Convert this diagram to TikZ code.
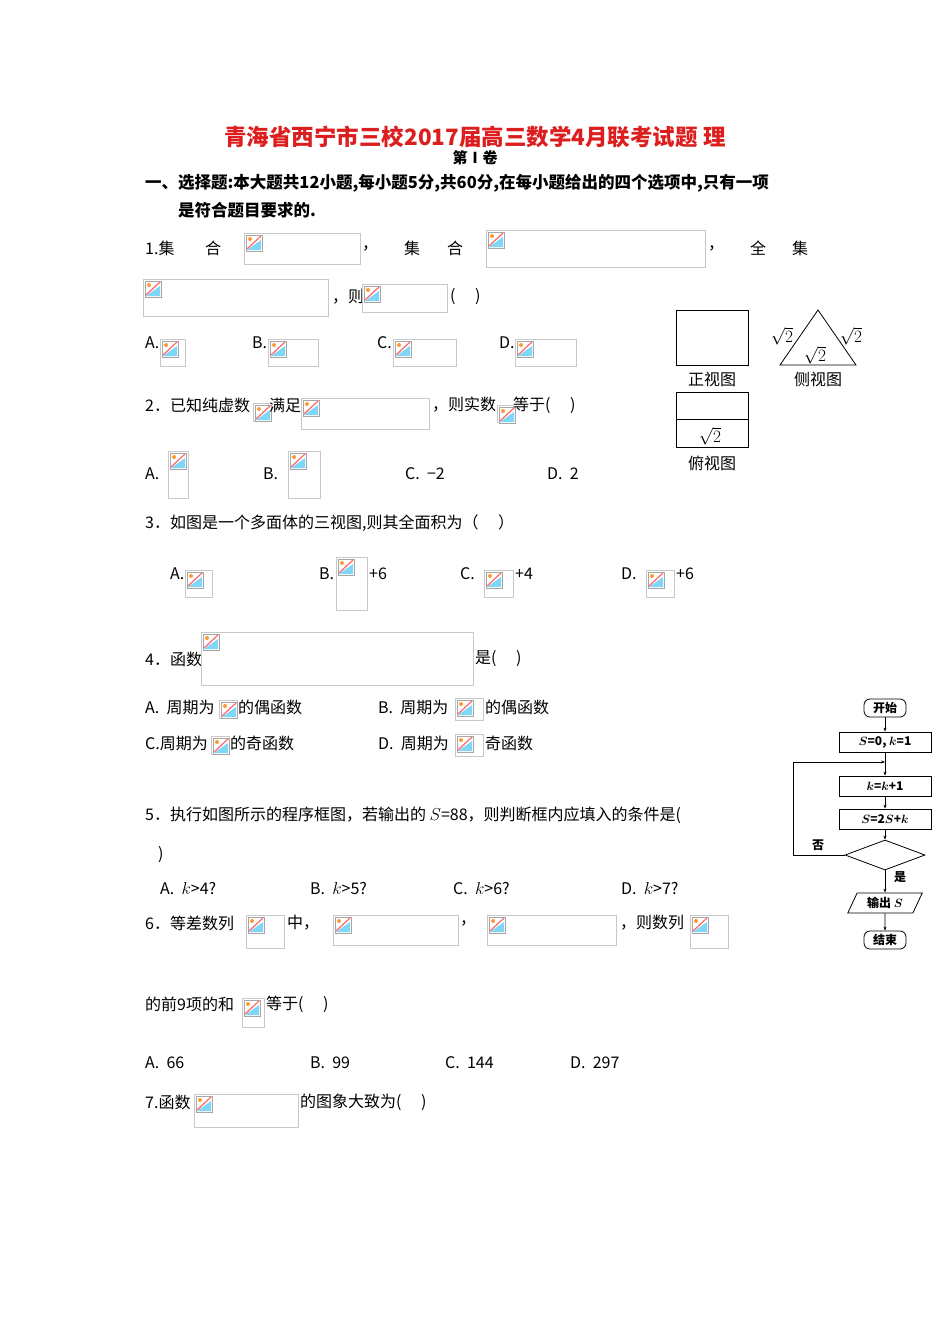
\documentclass[tikz,border=0pt]{standalone}
\usepackage{amsmath,bm}
\usepackage{fontspec}
\setmainfont{Noto Sans CJK SC}
\usetikzlibrary{shapes.geometric,positioning,arrows.meta}
\definecolor{titlered}{RGB}{220,30,30}
\definecolor{boxgray}{RGB}{200,200,200}
\newcommand\imgbox[4]{%
  \draw[boxgray,fill=white] (#1,#2) rectangle (#3,#4);
  \draw[gray!70,fill=white] (#1+2,#2+2) rectangle (#1+18,#2+18);
  \fill[cyan!50] (#1+3,#2+17) -- (#1+17,#2+17) -- (#1+17,#2+7) -- cycle;
  \fill[orange!80] (#1+6,#2+6) circle (2);
  \draw[red!60,line width=1.2pt] (#1+3,#2+16) -- (#1+17,#2+3);
}
\tikzset{
  txt/.style={anchor=west,inner sep=0pt,font=\fontsize{16}{18}\selectfont},
  bold/.style={txt,font=\fontsize{16.5}{18}\selectfont\bfseries},
  sq/.style={font=\fontsize{16}{18}\selectfont},
  fbox/.style={draw,thick,minimum width=92pt,minimum height=20pt,inner sep=1pt,font=\fontsize{12}{13}\selectfont\bfseries},
  term/.style={draw,thick,rounded corners=6pt,minimum width=42pt,minimum height=18pt,inner sep=1pt,font=\fontsize{12}{13}\selectfont\bfseries},
  flow/.style={-{Stealth[length=4pt]},thick},
}
\begin{document}
\begin{tikzpicture}[x=1pt,y=-1pt]
\useasboundingbox[fill=white] (0,0) rectangle (950,1344);
% title
\node[font=\fontsize{22.5}{24}\selectfont\bfseries,text=titlered] (title) at (475,137) {青海省西宁市三校2017届高三数学4月联考试题\ 理};
\node[font=\fontsize{15}{16}\selectfont\bfseries] (vol) at (475,158) {第Ⅰ卷};
\node[bold] at (145,183) {一、选择题:本大题共12小题,每小题5分,共60分,在每小题给出的四个选项中,只有一项};
\node[bold] at (178,210) {是符合题目要求的.};
% question 1
\node[txt] at (145,248) {1.集};
\node[txt] at (205,248) {合};
\imgbox{244}{233}{360}{264}
\node[txt] at (362,248) {，};
\node[txt] at (404,248) {集};
\node[txt] at (447,248) {合};
\imgbox{486}{230}{705}{267}
\node[txt] at (708,248) {，};
\node[txt] at (750,248) {全};
\node[txt] at (792,248) {集};
\imgbox{143}{279}{328}{316}
\node[txt] at (332,297) {，则};
\imgbox{362}{284}{447}{312}
\node[txt] at (450,297) {(\quad\ )};
\node[txt] at (145,343) {A.};
\imgbox{160}{339}{185}{366}
\node[txt] at (252,343) {B.};
\imgbox{268}{339}{318}{366}
\node[txt] at (377,343) {C.};
\imgbox{393}{339}{456}{366}
\node[txt] at (499,343) {D.};
\imgbox{515}{339}{576}{366}
% question 2
\node[txt] at (145,405) {2．已知纯虚数};
\imgbox{253}{403}{268}{421}
\node[txt] at (269,405) {满足};
\imgbox{301}{398}{429}{429}
\node[txt] at (432,405) {，则实数};
\imgbox{497}{405}{513}{422}
\node[txt] at (513,405) {等于(\quad\ )};
\node[txt] at (145,474) {A.};
\imgbox{168}{451}{188}{498}
\node[txt] at (263,474) {B.};
\imgbox{288}{451}{320}{498}
\node[txt] at (405,474) {C.\ \ −2};
\node[txt] at (547,474) {D.\ \ 2};
% question 3
\node[txt] at (145,523) {3．如图是一个多面体的三视图,则其全面积为（\quad\ ）};
\node[txt] at (170,574) {A.};
\imgbox{185}{570}{212}{597}
\node[txt] at (319,574) {B.};
\imgbox{336}{557}{367}{610}
\node[txt] at (369,574) {+6};
\node[txt] at (460,574) {C.};
\imgbox{484}{570}{513}{597}
\node[txt] at (515,574) {+4};
\node[txt] at (621,574) {D.};
\imgbox{646}{570}{674}{597}
\node[txt] at (676,574) {+6};
% three views
\draw[thick] (676,310) rectangle (748,365);
\node[txt,anchor=center] (front) at (712,379) {正视图};
\draw[thick] (818,310) -- (856,365) -- (780,365) -- cycle;
\node[sq] at (782,336) {$\sqrt{2}$};
\node[sq] at (851,336) {$\sqrt{2}$};
\node[sq] at (815,355) {$\sqrt{2}$};
\node[txt,anchor=center] (side) at (818,379) {侧视图};
\draw[thick] (676,392) rectangle (748,447);
\draw[thick] (676,419) -- (748,419);
\node[sq] at (710,436) {$\sqrt{2}$};
\node[txt,anchor=center] (top) at (712,463) {俯视图};
% question 4
\node[txt] at (145,659) {4．函数};
\imgbox{201}{632}{473}{685}
\node[txt] at (475,659) {是(\quad\ )};
\node[txt] at (145,707) {A.\ \ 周期为};
\imgbox{219}{700}{237}{718}
\node[txt] at (238,707) {的偶函数};
\node[txt] at (378,707) {B.\ \ 周期为};
\imgbox{455}{698}{483}{720}
\node[txt] at (485,707) {的偶函数};
\node[txt] at (145,743) {C.周期为};
\imgbox{211}{736}{229}{754}
\node[txt] at (230,743) {的奇函数};
\node[txt] at (378,743) {D.\ \ 周期为};
\imgbox{455}{734}{483}{756}
\node[txt] at (485,743) {奇函数};
% question 5
\node[txt] at (145,815) {5．执行如图所示的程序框图，若输出的 $S$=88，则判断框内应填入的条件是(};
\node[txt] at (158,855) {)};
\node[txt] at (160,888) {A.\ \ $k$>4?};
\node[txt] at (310,888) {B.\ \ $k$>5?};
\node[txt] at (453,888) {C.\ \ $k$>6?};
\node[txt] at (621,888) {D.\ \ $k$>7?};
% flowchart
\node[term] (start) at (885,708) {开始};
\node[fbox] (init) at (885,742) {$\bm{S}$=0, $\bm{k}$=1};
\coordinate (join) at (885,762);
\node[fbox] (inc) at (885,786) {$\bm{k}$=$\bm{k}$+1};
\node[fbox] (upd) at (885,819) {$\bm{S}$=2$\bm{S}$+$\bm{k}$};
\node[draw,thick,diamond,aspect=2.7,minimum width=80pt,minimum height=30pt,inner sep=0pt] (cond) at (885,855) {};
\node[draw,thick,trapezium,trapezium left angle=65,trapezium right angle=115,minimum width=70pt,minimum height=20pt,inner sep=1pt,font=\fontsize{12}{13}\selectfont\bfseries] (out) at (885,903) {输出 $\bm{S}$};
\node[term] (stop) at (885,940) {结束};
\draw[flow] (start) -- (init);
\draw[thick] (init) -- (join);
\draw[flow] (join) -- (inc);
\draw[flow] (inc) -- (upd);
\draw[flow] (upd) -- (cond);
\draw[flow] (cond.west) -- (793,855) -- (793,762) -- (join);
\node[font=\fontsize{12}{13}\selectfont\bfseries] at (818,845) {否};
\draw[flow] (cond) -- (out);
\node[font=\fontsize{12}{13}\selectfont\bfseries] at (900,877) {是};
\draw[flow] (out) -- (stop);
% question 6
\node[txt] at (145,923) {6．等差数列};
\imgbox{246}{915}{284}{948}
\node[txt] at (287,923) {中，};
\imgbox{333}{915}{458}{945}
\node[txt] at (460,923) {，};
\imgbox{487}{915}{616}{945}
\node[txt] at (620,923) {，则数列};
\imgbox{690}{915}{728}{948}
\node[txt] at (145,1004) {的前9项的和};
\imgbox{242}{998}{264}{1027}
\node[txt] at (266,1004) {等于(\quad\ )};
\node[txt] at (145,1063) {A.\ \ 66};
\node[txt] at (310,1063) {B.\ \ 99};
\node[txt] at (445,1063) {C.\ \ 144};
\node[txt] at (570,1063) {D.\ \ 297};
% question 7
\node[txt] at (145,1102) {7.函数};
\imgbox{194}{1094}{298}{1127}
\node[txt] at (300,1102) {的图象大致为(\quad\ )};
\end{tikzpicture}
\end{document}
